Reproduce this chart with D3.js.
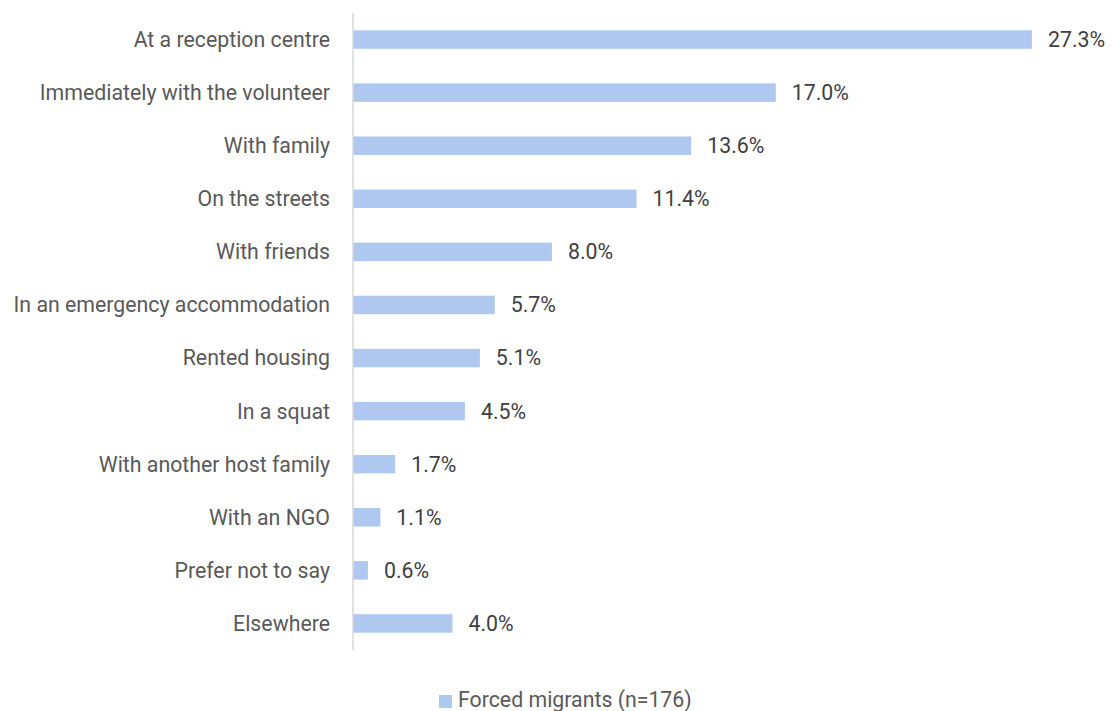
<!DOCTYPE html>
<html>
<head>
<meta charset="utf-8">
<script src="https://d3js.org/d3.v7.min.js"></script>
<style>
  body { margin: 0; background: #fff; }
  svg text { font-family: Roboto, "Noto Sans", sans-serif; }
</style>
</head>
<body>
<svg id="svg" width="1112" height="711"></svg>
<script>
// data
var categories = ["At a reception centre", "Immediately with the volunteer", "With family",
  "On the streets", "With friends", "In an emergency accommodation", "Rented housing",
  "In a squat", "With another host family", "With an NGO", "Prefer not to say", "Elsewhere"];
var values = [27.3, 17.0, 13.6, 11.4, 8.0, 5.7, 5.1, 4.5, 1.7, 1.1, 0.6, 4.0];
var seriesName = "Forced migrants (n=176)";

var barColor = "#aec8f0";
var fs = 21.3;

var svg = d3.select("#svg");

var x = d3.scaleLinear().domain([0, 30]).range([353, 353 + 30 * 24.87]);
var y = d3.scaleBand().domain(categories).range([13, 650])
  .paddingInner(0.652).paddingOuter(0.326);

// bars
svg.append("g").selectAll("rect")
  .data(values)
  .enter().append("rect")
    .attr("x", x(0))
    .attr("y", function(d, i) { return y(categories[i]); })
    .attr("width", function(d) { return x(d) - x(0); })
    .attr("height", y.bandwidth())
    .attr("fill", barColor);

// axis line
svg.append("line")
  .attr("x1", x(0)).attr("x2", x(0))
  .attr("y1", 13).attr("y2", 650)
  .attr("stroke", "#d9d9d9").attr("stroke-width", 1.5);

// category labels
svg.append("g").selectAll("text")
  .data(categories)
  .enter().append("text")
    .attr("x", 330)
    .attr("y", function(d) { return y(d) + y.bandwidth() / 2; })
    .attr("dy", "0.35em")
    .attr("text-anchor", "end")
    .attr("font-size", fs)
    .attr("fill", "#595959")
    .text(function(d) { return d; });

// value labels
svg.append("g").selectAll("text")
  .data(values)
  .enter().append("text")
    .attr("x", function(d) { return x(d) + 16; })
    .attr("y", function(d, i) { return y(categories[i]) + y.bandwidth() / 2; })
    .attr("dy", "0.35em")
    .attr("font-size", fs)
    .attr("fill", "#404040")
    .text(function(d) { return d.toFixed(1) + "%"; });

// legend
var lg = svg.append("g");
lg.append("rect").attr("x", 439).attr("y", 695).attr("width", 13).attr("height", 13).attr("fill", barColor);
lg.append("text").attr("x", 458).attr("y", 700).attr("dy", "0.35em")
  .attr("font-size", fs).attr("fill", "#595959").text(seriesName);
</script>
</body>
</html>
